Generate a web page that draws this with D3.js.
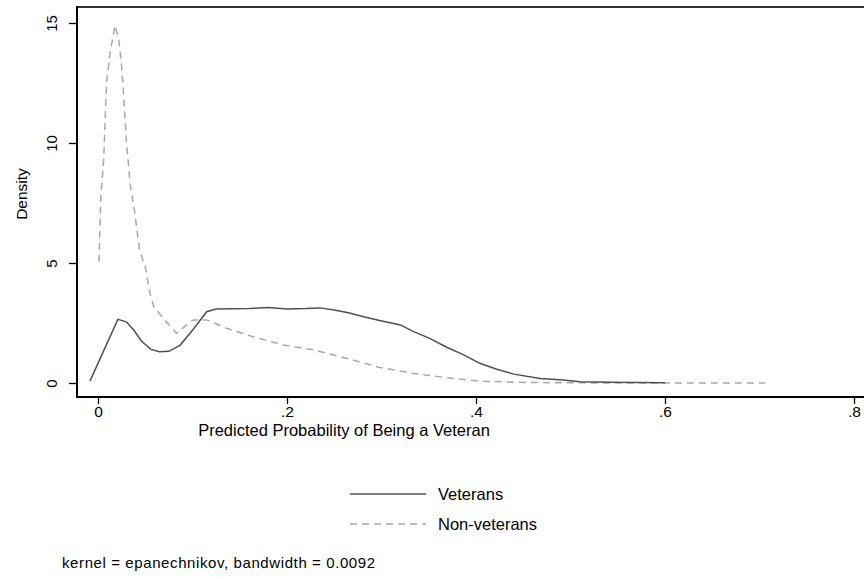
<!DOCTYPE html>
<html>
<head>
<meta charset="utf-8">
<script src="https://cdn.jsdelivr.net/npm/d3@7"></script>
<style>
  html, body { margin: 0; padding: 0; background: #fff; }
  svg { display: block; font-family: Arial, "Liberation Sans", sans-serif; }
</style>
</head>
<body>
<svg id="chart" width="864" height="579"></svg>
<script>
// Veterans density (solid)
const vetX = [-0.0085, 0.021, 0.030, 0.038, 0.046, 0.056, 0.065, 0.075, 0.087, 0.100, 0.115, 0.125, 0.160, 0.180, 0.200, 0.220, 0.235, 0.250, 0.265, 0.281, 0.298, 0.320, 0.334, 0.351, 0.369, 0.387, 0.404, 0.422, 0.440, 0.468, 0.492, 0.510, 0.545, 0.600];
const vetY = [0.08, 2.65, 2.55, 2.2, 1.75, 1.4, 1.3, 1.32, 1.58, 2.2, 2.97, 3.08, 3.1, 3.15, 3.08, 3.1, 3.13, 3.04, 2.93, 2.76, 2.6, 2.42, 2.14, 1.86, 1.49, 1.17, 0.82, 0.57, 0.37, 0.19, 0.12, 0.05, 0.03, 0.01];
// Non-veterans density (dashed)
const nonX = [0.001, 0.003, 0.006, 0.009, 0.013, 0.018, 0.022, 0.025, 0.027, 0.030, 0.034, 0.039, 0.044, 0.050, 0.055, 0.059, 0.069, 0.083, 0.094, 0.101, 0.115, 0.136, 0.164, 0.196, 0.228, 0.263, 0.298, 0.334, 0.369, 0.404, 0.440, 0.490, 0.550, 0.706];
const nonY = [5.05, 7.76, 9.3, 12.5, 13.8, 14.9, 14.3, 13.2, 12.1, 10.1, 8.3, 7.07, 5.54, 4.85, 3.74, 3.18, 2.7, 2.07, 2.42, 2.63, 2.63, 2.28, 1.93, 1.58, 1.38, 1.03, 0.65, 0.40, 0.22, 0.08, 0.03, 0.01, 0.0, 0.0];

const xTicks = [0, 0.2, 0.4, 0.6, 0.8];
const xTickLabels = ["0", ".2", ".4", ".6", ".8"];
const yTicks = [0, 5, 10, 15];
const yTickLabels = ["0", "5", "10", "15"];
const seriesNames = ["Veterans", "Non-veterans"];
const xTitle = "Predicted Probability of Being a Veteran";
const yTitle = "Density";
const note = "kernel = epanechnikov, bandwidth = 0.0092";

const svg = d3.select("#chart");
const x = d3.scaleLinear().domain([0, 0.8]).range([98, 854]);
const y = d3.scaleLinear().domain([0, 15]).range([383, 23]);

const axisLeftX = 77, axisBottomY = 397, topY = 7;

// top border
svg.append("line").attr("x1", axisLeftX).attr("x2", 864).attr("y1", topY).attr("y2", topY)
  .attr("stroke", "#333").attr("stroke-width", 2);

// Y axis
const yAxis = d3.axisLeft(y).tickValues(yTicks).tickFormat((d, i) => yTickLabels[i]).tickSize(8);
const gy = svg.append("g").attr("transform", `translate(${axisLeftX},0)`).call(yAxis);
gy.select(".domain").remove();
gy.append("line").attr("x1", 0).attr("x2", 0).attr("y1", topY - 1).attr("y2", axisBottomY + 1)
  .attr("stroke", "#000").attr("stroke-width", 2);
gy.selectAll(".tick line").attr("stroke", "#000").attr("stroke-width", 1.3);
gy.selectAll(".tick text")
  .attr("font-size", 15).attr("fill", "#000")
  .attr("transform", "rotate(-90)")
  .attr("dy", null)
  .attr("x", 0).attr("y", -20).attr("text-anchor", "middle");

// X axis
const xAxis = d3.axisBottom(x).tickValues(xTicks).tickFormat((d, i) => xTickLabels[i]).tickSize(7);
const gx = svg.append("g").attr("transform", `translate(0,${axisBottomY})`).call(xAxis);
gx.select(".domain").remove();
gx.append("line").attr("x1", axisLeftX - 1).attr("x2", 864).attr("y1", 0).attr("y2", 0)
  .attr("stroke", "#000").attr("stroke-width", 2);
gx.selectAll(".tick line").attr("stroke", "#000").attr("stroke-width", 1.3);
gx.selectAll(".tick text").attr("font-size", 15.5).attr("fill", "#000")
  .attr("dy", null).attr("y", 20);

// titles
svg.append("text").attr("x", 344).attr("y", 436).attr("text-anchor", "middle")
  .attr("font-size", 16.5).attr("fill", "#000").text(xTitle);
svg.append("text").attr("transform", "translate(27,194) rotate(-90)").attr("text-anchor", "middle")
  .attr("font-size", 15.5).attr("fill", "#000").text(yTitle);

// lines
const vetData = vetX.map((d, i) => [d, vetY[i]]);
const nonData = nonX.map((d, i) => [d, nonY[i]]);
const line = d3.line().x(d => x(d[0])).y(d => y(d[1]));

svg.append("path").datum(nonData).attr("d", line).attr("fill", "none")
  .attr("stroke", "#a8a8a8").attr("stroke-width", 1.5).attr("stroke-dasharray", "7,5");
svg.append("path").datum(vetData).attr("d", line).attr("fill", "none")
  .attr("stroke", "#505050").attr("stroke-width", 1.5);

// legend
const leg = svg.append("g");
const legY = [494, 524];
const styles = [{ stroke: "#505050", dash: null }, { stroke: "#a8a8a8", dash: "7,5" }];
seriesNames.forEach((name, i) => {
  leg.append("line").attr("x1", 350).attr("x2", 426).attr("y1", legY[i]).attr("y2", legY[i])
    .attr("stroke", styles[i].stroke).attr("stroke-width", 1.5)
    .attr("stroke-dasharray", styles[i].dash);
  leg.append("text").attr("x", 438).attr("y", legY[i] + 6).attr("font-size", 16.5)
    .attr("fill", "#000").text(name);
});

// note
svg.append("text").attr("x", 62).attr("y", 568).attr("font-size", 15).attr("letter-spacing", 0.6)
  .attr("fill", "#000").text(note);
</script>
</body>
</html>
